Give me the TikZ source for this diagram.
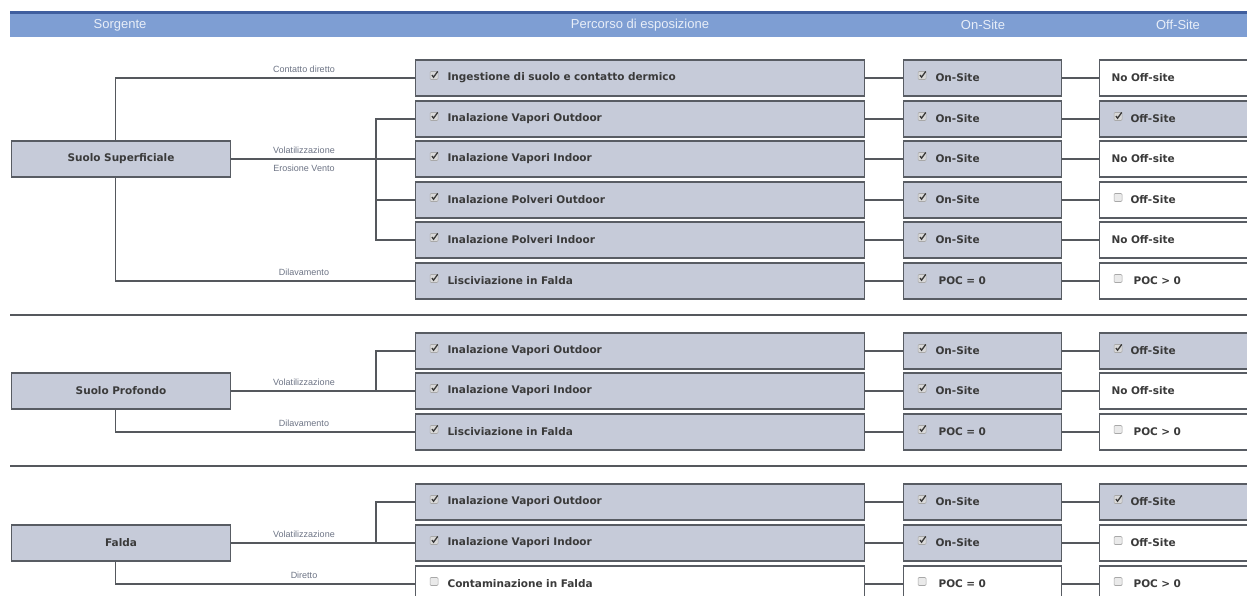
\documentclass[tikz,border=0pt]{standalone}
\usepackage{fontspec}
\setmainfont{Liberation Sans}
\newfontfamily\vfam{DejaVu Sans}

\definecolor{boxfill}{HTML}{C6CBD9}
\definecolor{boxline}{HTML}{585C63}
\definecolor{boxtext}{HTML}{3A3A3A}
\definecolor{lineclr}{HTML}{55585D}
\definecolor{lblclr}{HTML}{6C7384}
\definecolor{hdrfill}{HTML}{7E9ED3}
\definecolor{hdrtop}{HTML}{3F5E9E}
\definecolor{hdrtext}{HTML}{E8EEF8}
\definecolor{chkfill}{HTML}{D9D9D9}
\definecolor{chkline}{HTML}{A8A8A8}

\def\boxind{0pt}

\begin{document}
\begin{tikzpicture}[x=1pt, y=-1pt,
  box/.style={draw=boxline, line width=1.1pt, fill=boxfill, minimum height=36pt, inner sep=0pt,
    anchor=west, align=left, text=boxtext, font=\vfam\bfseries\fontsize{10.5}{12}\selectfont,
    execute at begin node={\hspace*{\boxind}}},
  mid/.style={box, text width=449pt},
  ons/.style={box, text width=158pt},
  offs/.style={box, text width=156pt},
  src/.style={box, text width=219pt, align=center, ind=0pt},
  blank/.style={fill=white},
  ind/.code={\def\boxind{#1}},
  tick/.style={ind=32pt, path picture={
    \filldraw[fill=chkfill, draw=chkline, line width=.6pt, rounded corners=1pt]
      ([xshift=14.5pt,yshift=-1.5pt]path picture bounding box.west) rectangle ++(8pt,8pt);
    \draw[boxtext, line width=1.3pt]
      ([xshift=16.4pt,yshift=2.9pt]path picture bounding box.west) -- ++(1.6pt,-2.1pt) -- ++(4.2pt,5.8pt);}},
  notick/.style={ind=32pt, path picture={
    \filldraw[fill=chkfill!55, draw=chkline, line width=.6pt, rounded corners=1pt]
      ([xshift=14.5pt,yshift=-1.5pt]path picture bounding box.west) rectangle ++(8pt,8pt);}},
  conn/.style={draw=lineclr, line width=1.1pt},
  divider/.style={draw=lineclr, line width=1.1pt},
  lbl/.style={font=\fontsize{9}{10}\selectfont, text=lblclr, inner sep=0pt},
  hdr/.style={font=\fontsize{13}{14}\selectfont, text=hdrtext, inner sep=0pt}]

\useasboundingbox (0,0) rectangle (1247,595);

% header
\fill[hdrfill] (10,11) rectangle (1247,37);
\fill[hdrtop] (10,11) rectangle (1247,14);
\node[hdr] (h1) at (120,25) {Sorgente};
\node[hdr] (h2) at (640,25) {Percorso di esposizione};
\node[hdr] (h3) at (983,25) {On-Site};
\node[hdr] (h4) at (1178,25) {Off-Site};

% suolo superficiale
\node[src] (ss) at (11,159) {Suolo Superficiale};

\node[mid, tick] (p1) at (415,78) {Ingestione di suolo e contatto dermico};
\node[ons, tick] (p1n) at (903,78) {On-Site};
\node[offs, blank, ind=12pt] (p1f) at (1099,78) {No Off-site};

\node[mid, tick] (p2) at (415,119) {Inalazione Vapori Outdoor};
\node[ons, tick] (p2n) at (903,119) {On-Site};
\node[offs, tick, ind=31pt] (p2f) at (1099,119) {Off-Site};

\node[mid, tick] (p3) at (415,159) {Inalazione Vapori Indoor};
\node[ons, tick] (p3n) at (903,159) {On-Site};
\node[offs, blank, ind=12pt] (p3f) at (1099,159) {No Off-site};

\node[mid, tick] (p4) at (415,200) {Inalazione Polveri Outdoor};
\node[ons, tick] (p4n) at (903,200) {On-Site};
\node[offs, blank, notick, ind=31pt] (p4f) at (1099,200) {Off-Site};

\node[mid, tick] (p5) at (415,240) {Inalazione Polveri Indoor};
\node[ons, tick] (p5n) at (903,240) {On-Site};
\node[offs, blank, ind=12pt] (p5f) at (1099,240) {No Off-site};

\node[mid, tick] (p6) at (415,281) {Lisciviazione in Falda};
\node[ons, tick, ind=35pt] (p6n) at (903,281) {POC = 0};
\node[offs, blank, notick, ind=34pt] (p6f) at (1099,281) {POC > 0};

\draw[conn] ([xshift=-5.5pt]ss.north) |- (p1.west);
\draw[conn] (ss) -- (p3);
\draw[conn] (p2.west) -- ++(-39,0) |- (p5.west);
\draw[conn] (p4.west) -- ++(-39,0);
\draw[conn] ([xshift=-5.5pt]ss.south) |- (p6.west);
\draw[conn] (p1) -- (p1n) -- (p1f);
\draw[conn] (p2) -- (p2n) -- (p2f);
\draw[conn] (p3) -- (p3n) -- (p3f);
\draw[conn] (p4) -- (p4n) -- (p4f);
\draw[conn] (p5) -- (p5n) -- (p5f);
\draw[conn] (p6) -- (p6n) -- (p6f);

\node[lbl] (l1) at (304,69) {Contatto diretto};
\node[lbl] (l2) at (304,150) {Volatilizzazione};
\node[lbl] (l3) at (304,168) {Erosione Vento};
\node[lbl] (l4) at (304,272) {Dilavamento};

\draw[divider] (10,315) -- (1247,315);

% suolo profondo
\node[src] (sp) at (11,391) {Suolo Profondo};

\node[mid, tick] (q1) at (415,351) {Inalazione Vapori Outdoor};
\node[ons, tick] (q1n) at (903,351) {On-Site};
\node[offs, tick, ind=31pt] (q1f) at (1099,351) {Off-Site};

\node[mid, tick] (q2) at (415,391) {Inalazione Vapori Indoor};
\node[ons, tick] (q2n) at (903,391) {On-Site};
\node[offs, blank, ind=12pt] (q2f) at (1099,391) {No Off-site};

\node[mid, tick] (q3) at (415,432) {Lisciviazione in Falda};
\node[ons, tick, ind=35pt] (q3n) at (903,432) {POC = 0};
\node[offs, blank, notick, ind=34pt] (q3f) at (1099,432) {POC > 0};

\draw[conn] (sp) -- (q2);
\draw[conn] (q1.west) -- ++(-39,0) |- (q2.west);
\draw[conn] ([xshift=-5.5pt]sp.south) |- (q3.west);
\draw[conn] (q1) -- (q1n) -- (q1f);
\draw[conn] (q2) -- (q2n) -- (q2f);
\draw[conn] (q3) -- (q3n) -- (q3f);

\node[lbl] (l5) at (304,382) {Volatilizzazione};
\node[lbl] (l6) at (304,423) {Dilavamento};

\draw[divider] (10,466) -- (1247,466);

% falda
\node[src] (fa) at (11,543) {Falda};

\node[mid, tick] (r1) at (415,502) {Inalazione Vapori Outdoor};
\node[ons, tick] (r1n) at (903,502) {On-Site};
\node[offs, tick, ind=31pt] (r1f) at (1099,502) {Off-Site};

\node[mid, tick] (r2) at (415,543) {Inalazione Vapori Indoor};
\node[ons, tick] (r2n) at (903,543) {On-Site};
\node[offs, blank, notick, ind=31pt] (r2f) at (1099,543) {Off-Site};

\node[mid, blank, notick] (r3) at (415,584) {Contaminazione in Falda};
\node[ons, blank, notick, ind=35pt] (r3n) at (903,584) {POC = 0};
\node[offs, blank, notick, ind=34pt] (r3f) at (1099,584) {POC > 0};

\draw[conn] (fa) -- (r2);
\draw[conn] (r1.west) -- ++(-39,0) |- (r2.west);
\draw[conn] ([xshift=-5.5pt]fa.south) |- (r3.west);
\draw[conn] (r1) -- (r1n) -- (r1f);
\draw[conn] (r2) -- (r2n) -- (r2f);
\draw[conn] (r3) -- (r3n) -- (r3f);

\node[lbl] (l7) at (304,534) {Volatilizzazione};
\node[lbl] (l8) at (304,575) {Diretto};

\end{tikzpicture}
\end{document}
